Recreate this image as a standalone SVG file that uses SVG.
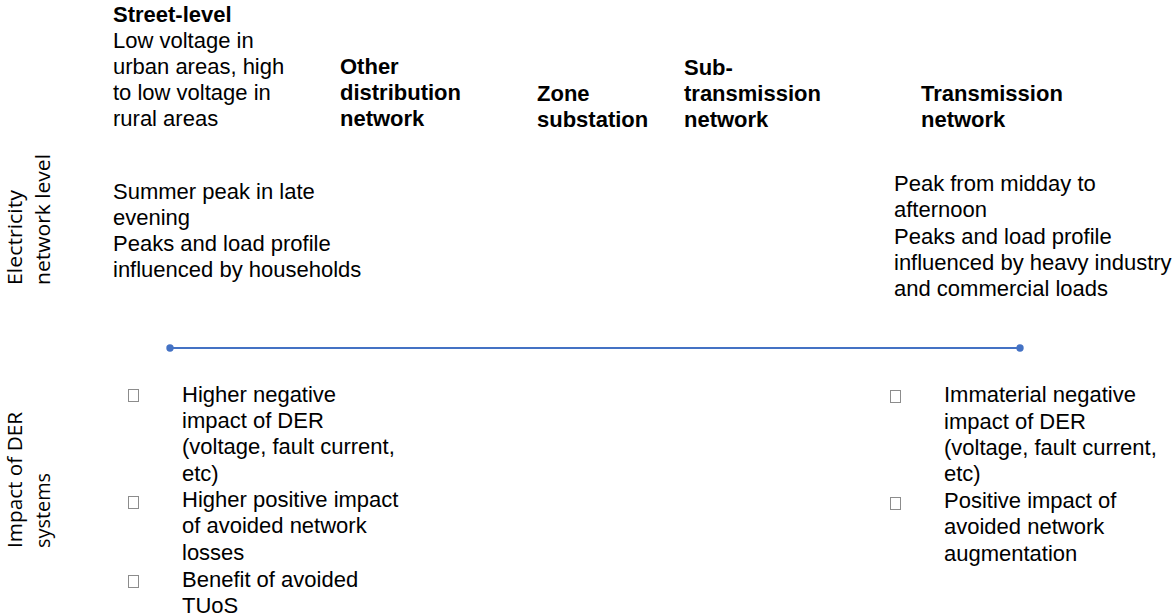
<svg xmlns="http://www.w3.org/2000/svg" width="1172" height="616" viewBox="0 0 1172 616">
<style>
text{font-family:"Liberation Sans",Arial,sans-serif;font-size:22px;fill:#000}
.b{font-weight:bold}
.v{font-family:"Open Sans","Liberation Sans",sans-serif;font-size:20px}
.box{fill:#fff;stroke:#8c8c8c;stroke-width:1}
.conn{stroke:#4472C4;stroke-width:2;fill:none}
.dot{fill:#4472C4}
</style>
<g id="axis-labels">
<g id="label-electricity">
<text class="v" transform="translate(22,285) rotate(-90)" textLength="95" lengthAdjust="spacingAndGlyphs">Electricity</text>
<text class="v" transform="translate(50,285) rotate(-90)" textLength="131" lengthAdjust="spacingAndGlyphs">network level</text>
</g>
<g id="label-impact">
<text class="v" transform="translate(22,548) rotate(-90)" textLength="136" lengthAdjust="spacingAndGlyphs">Impact of DER</text>
<text class="v" transform="translate(50,548) rotate(-90)" textLength="75" lengthAdjust="spacingAndGlyphs">systems</text>
</g>
</g>
<g id="node-street-level">
<text x="113" y="22" class="b">Street-level</text>
<text x="113" y="48">Low voltage in</text>
<text x="113" y="74">urban areas, high</text>
<text x="113" y="100">to low voltage in</text>
<text x="113" y="126">rural areas</text>
</g>
<g id="node-other-distribution">
<text x="340" y="74" class="b">Other</text>
<text x="340" y="100" class="b">distribution</text>
<text x="340" y="126" class="b">network</text>
</g>
<g id="node-zone-substation">
<text x="537" y="101" class="b">Zone</text>
<text x="537" y="127" class="b">substation</text>
</g>
<g id="node-sub-transmission">
<text x="684" y="75" class="b">Sub-</text>
<text x="684" y="101" class="b">transmission</text>
<text x="684" y="127" class="b">network</text>
</g>
<g id="node-transmission">
<text x="921" y="101" class="b">Transmission</text>
<text x="921" y="127" class="b">network</text>
</g>
<g id="node-street-peak">
<text x="113" y="199">Summer peak in late</text>
<text x="113" y="225">evening</text>
<text x="113" y="251">Peaks and load profile</text>
<text x="113" y="277">influenced by households</text>
</g>
<g id="node-transmission-peak">
<text x="894" y="191">Peak from midday to</text>
<text x="894" y="217">afternoon</text>
<text x="894" y="244">Peaks and load profile</text>
<text x="894" y="270">influenced by heavy industry</text>
<text x="894" y="296">and commercial loads</text>
</g>
<g id="connectors">
<line class="conn" x1="170" y1="348" x2="1020" y2="348"/>
<circle class="dot" cx="170" cy="348" r="3.7"/>
<circle class="dot" cx="1020" cy="348" r="3.7"/>
</g>
<g id="node-impact-left">
<rect class="box" x="128.5" y="389.5" width="10" height="12"/>
<rect class="box" x="128.5" y="496.5" width="10" height="12"/>
<rect class="box" x="128.5" y="575.5" width="10" height="12"/>
<text x="182" y="402">Higher negative</text>
<text x="182" y="428">impact of DER</text>
<text x="182" y="454">(voltage, fault current,</text>
<text x="182" y="481">etc)</text>
<text x="182" y="507">Higher positive impact</text>
<text x="182" y="533">of avoided network</text>
<text x="182" y="560">losses</text>
<text x="182" y="587">Benefit of avoided</text>
<text x="182" y="613">TUoS</text>
</g>
<g id="node-impact-right">
<rect class="box" x="890.5" y="390.5" width="10" height="12"/>
<rect class="box" x="890.5" y="497.5" width="10" height="12"/>
<text x="944" y="402">Immaterial negative</text>
<text x="944" y="429">impact of DER</text>
<text x="944" y="455">(voltage, fault current,</text>
<text x="944" y="481">etc)</text>
<text x="944" y="508">Positive impact of</text>
<text x="944" y="534">avoided network</text>
<text x="944" y="561">augmentation</text>
</g>
</svg>
